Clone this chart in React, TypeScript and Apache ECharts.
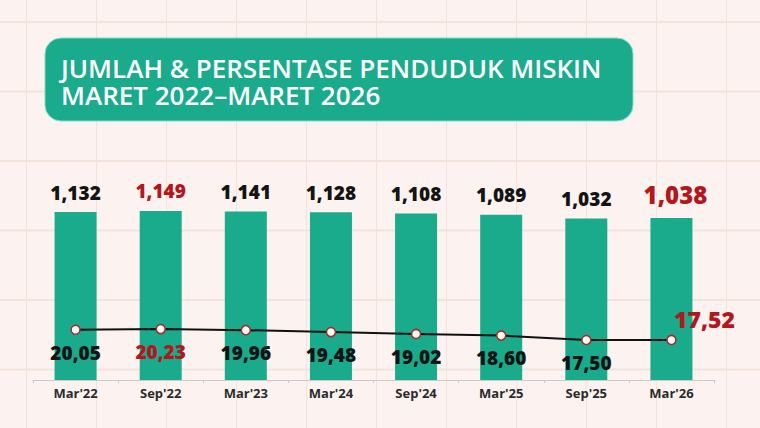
import React, { useEffect, useRef } from "react";
import * as echarts from "echarts";

const categories = ["Mar'22", "Sep'22", "Mar'23", "Mar'24", "Sep'24", "Mar'25", "Sep'25", "Mar'26"];
// Jumlah penduduk miskin (juta orang)
const jumlah = [1.132, 1.149, 1.141, 1.128, 1.108, 1.089, 1.032, 1.038];
// Persentase penduduk miskin (%)
const persentase = [20.05, 20.23, 19.96, 19.48, 19.02, 18.6, 17.5, 17.52];
const titleLines = ["JUMLAH & PERSENTASE PENDUDUK MISKIN", "MARET 2022\u2013MARET 2026"];

const highlightIdx = [1];
const lastIdx = categories.length - 1;

const TEAL = "#1aaa8c";
const RED = "#b5161b";
const DARK = "#141414";
const FONT = "'Open Sans', 'Noto Sans', sans-serif";

const idFmt = (v: number, d: number) => v.toFixed(d).replace(".", ",");

export default function App() {
  const ref = useRef<HTMLDivElement>(null);

  useEffect(() => {
    document.body.style.margin = "0";
    const chart = echarts.init(ref.current!, null, { renderer: "svg" });

    // bars are plotted in "ratus ribu" (x10 of juta) on a compressed log scale
    const barData = jumlah.map((v, i) => {
      const item: any = { value: v * 10, raw: v };
      if (i === lastIdx) {
        item.label = { color: RED, fontSize: 24, fontWeight: 800, distance: 12, offset: [4, 0] };
      } else if (highlightIdx.includes(i)) {
        item.label = { color: RED };
      }
      return item;
    });

    const lineData = persentase.map((v, i) => {
      if (i === lastIdx) {
        return {
          value: v,
          label: {
            color: RED,
            fontSize: 23,
            fontWeight: 800,
            position: "top",
            distance: 4,
            offset: [33, 0],
          },
        };
      }
      if (highlightIdx.includes(i)) {
        return { value: v, label: { color: RED } };
      }
      return { value: v };
    });

    chart.setOption({
      animation: false,
      backgroundColor: "transparent",
      textStyle: { fontFamily: FONT },
      grid: { left: 33, right: 46, top: 180, bottom: 48, containLabel: false },
      xAxis: {
        type: "category",
        data: categories,
        axisLine: { show: true, lineStyle: { color: "#cfc8c6", width: 1 } },
        axisTick: { show: true, length: 3, lineStyle: { color: "#cfc8c6" } },
        axisLabel: {
          color: "#2b2b2b",
          fontSize: 13,
          fontWeight: 700,
          fontFamily: FONT,
          margin: 6,
        },
      },
      yAxis: [
        { type: "log", logBase: 10, min: 1, max: 17.98, show: false, splitLine: { show: false } },
        { type: "value", min: 7.5, max: 57.5, show: false, splitLine: { show: false } },
      ],
      graphic: [
        {
          type: "group",
          children: [
            {
              type: "rect",
              shape: { x: 45, y: 38, width: 588, height: 83, r: 16 },
              style: { fill: TEAL, stroke: "#7fdcc6", lineWidth: 1 },
            },
            {
              type: "text",
              x: 61,
              y: 67.5,
              style: {
                text: titleLines[0],
                fill: "#ffffff",
                font: `600 26px ${FONT}`,
                lineHeight: 26,
                verticalAlign: "middle",
              },
            },
            {
              type: "text",
              x: 61,
              y: 94.5,
              style: {
                text: titleLines[1],
                fill: "#ffffff",
                font: `600 26px ${FONT}`,
                lineHeight: 26,
                verticalAlign: "middle",
              },
            },
          ],
        },
      ],
      series: [
        {
          type: "bar",
          data: barData,
          yAxisIndex: 0,
          barWidth: 42,
          itemStyle: { color: TEAL },
          label: {
            show: true,
            position: "top",
            distance: 10,
            color: DARK,
            fontSize: 19,
            fontWeight: 800,
            fontFamily: FONT,
            formatter: (p: any) => idFmt(p.data.raw, 3),
          },
        },
        {
          type: "line",
          data: lineData,
          yAxisIndex: 1,
          symbol: "circle",
          symbolSize: 9,
          lineStyle: { color: "#111111", width: 2 },
          itemStyle: { color: "#fff7f3", borderColor: "#a52a2a", borderWidth: 1.5 },
          label: {
            show: true,
            position: "bottom",
            distance: 8,
            color: DARK,
            fontSize: 19,
            fontWeight: 800,
            fontFamily: FONT,
            formatter: (p: any) => idFmt(p.value, 2),
          },
          z: 5,
        },
      ],
    });

    return () => chart.dispose();
  }, []);

  return (
    <div
      style={{
        width: 760,
        height: 428,
        backgroundColor: "#fcf3f0",
        backgroundImage:
          "linear-gradient(to right, #f4e3dc 1.5px, transparent 1.5px), linear-gradient(to bottom, #f4e3dc 1.5px, transparent 1.5px)",
        backgroundSize: "70px 69.5px",
        backgroundPosition: "26px 21px",
      }}
    >
      <div ref={ref} style={{ width: 760, height: 428 }} />
    </div>
  );
}
